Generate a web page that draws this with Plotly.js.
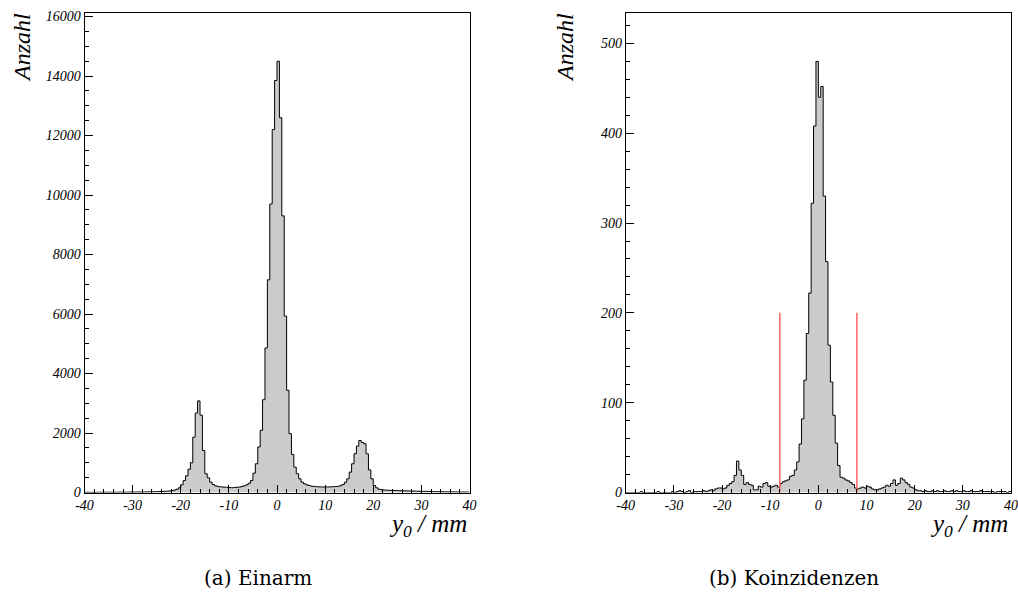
<!DOCTYPE html>
<html>
<head>
<meta charset="utf-8">
<script src="https://cdn.plot.ly/plotly-3.0.1.min.js"></script>
<style>
html,body{margin:0;padding:0;background:#ffffff;}
#chart{width:1018px;height:614px;}
</style>
</head>
<body>
<div id="chart"></div>
<script>
// ---- data ----
const xStart = -40;
const binWidth = 0.5;

// (a) Einarm: counts per 0.5 mm bin from -40 to 40
const einarmCounts = [
  5,6,5,7,6,8,7,8,9,8,
  10,9,11,10,12,11,13,12,14,15,
  15,16,18,17,19,21,22,24,26,28,
  30,33,36,40,45,52,65,80,110,160,
  260,400,560,780,1000,1860,2670,3080,2600,1410,
  630,495,350,270,225,205,190,185,180,175,
  165,160,170,175,185,200,225,258,313,404,
  650,966,1530,2090,3120,4860,7150,9700,12200,13850,
  14500,12600,9300,5930,3435,1977,1280,852,630,461,
  347,293,258,236,213,202,195,190,188,185,
  185,188,190,195,200,210,230,269,347,461,
  684,966,1303,1560,1750,1680,1640,1300,760,461,
  236,157,110,95,85,80,75,70,68,65,
  62,60,58,55,52,50,48,46,44,42,
  40,38,36,34,32,30,28,27,26,25,
  24,23,22,21,20,19,18,17,16,15
];

// (b) Koinzidenzen: counts per 0.5 mm bin from -40 to 40
const koinzCounts = [
  0,0,0,0,0,0,1,0,0,0,
  0,0,0,1,0,0,0,0,0,1,
  0,1,2,1,0,1,2,0,1,1,
  1,1,2,1,2,3,2,4,5,5,
  4,5,8,10,12,19,35,25,19,9,
  11,9,8,3,3,7,6,10,11,7,
  6,7,8,6,10,12,13,14,18,19,
  25,34,54,82,125,177,222,322,408,480,
  440,452,330,257,164,123,86,55,30,17,
  16,14,13,11,9,5,4,5,6,5,
  7,6,4,3,3,4,5,6,8,7,
  10,14,8,10,16,14,11,9,6,5,
  3,2,2,1,2,1,1,2,1,2,
  1,1,2,1,1,2,1,2,1,1,
  2,1,1,2,1,1,1,2,1,1,
  1,1,1,0,1,1,1,1,0,1
];

const cutPositions = [-8, 8];
const cutHeight = 200;

const xTickVals = [-40,-30,-20,-10,0,10,20,30,40];
const xTickText = ["-40","-30","-20","-10","0","10","20","30","40"];
const yTickValsA = [0,2000,4000,6000,8000,10000,12000,14000,16000];
const yTickTextA = ["0","2000","4000","6000","8000","10000","12000","14000","16000"];
const yTickValsB = [0,100,200,300,400,500];
const yTickTextB = ["0","100","200","300","400","500"];

const yTitleText = "Anzahl";
const xTitleText = "y<sub>0</sub> / mm";
const captions = ["(a) Einarm", "(b) Koinzidenzen"];

// ---- build step outlines ----
function stepXY(counts){
  const xs = [], ys = [];
  counts.forEach((c, i) => { xs.push(xStart + i*binWidth); ys.push(c); });
  xs.push(xStart + counts.length*binWidth);
  ys.push(counts[counts.length-1]);
  return {xs, ys};
}
const sA = stepXY(einarmCounts);
const sB = stepXY(koinzCounts);

const cutX = [], cutY = [];
cutPositions.forEach(c => { cutX.push(c, c, null); cutY.push(0, cutHeight, null); });

const W = 1018, H = 614;
const serif = 'Liberation Serif, Times New Roman, serif';
const capSerif = 'DejaVu Serif, serif';

const traces = [
  {x: sA.xs, y: sA.ys, xaxis:'x', yaxis:'y', type:'scatter', mode:'lines',
   line:{shape:'hv', color:'#000000', width:1}, fill:'tozeroy', fillcolor:'#cbcbcb',
   hoverinfo:'skip', showlegend:false},
  {x: sB.xs, y: sB.ys, xaxis:'x2', yaxis:'y2', type:'scatter', mode:'lines',
   line:{shape:'hv', color:'#000000', width:1}, fill:'tozeroy', fillcolor:'#cbcbcb',
   hoverinfo:'skip', showlegend:false},
  {x: cutX, y: cutY, xaxis:'x2', yaxis:'y2', type:'scatter', mode:'lines',
   line:{color:'#ff6464', width:1.5}, hoverinfo:'skip', showlegend:false}
];

const tickFont = {family: serif, size: 14, style:'italic', color:'#000000'};
function axis(extra){
  return Object.assign({
    showline:true, mirror:true, linecolor:'#000000', linewidth:1,
    ticks:'inside', ticklen:8, tickwidth:1, tickcolor:'#000000',
    showgrid:false, zeroline:false, tickfont:tickFont, fixedrange:true,
    tickmode:'array'
  }, extra);
}

const leftX0 = 84.5, leftX1 = 469.5, rightX0 = 625.7, rightX1 = 1011;
const topY = 13.3, botY = 492.5;

const layout = {
  width: W, height: H, autosize:false,
  margin:{l:0,r:0,t:0,b:0,pad:0},
  paper_bgcolor:'#ffffff', plot_bgcolor:'#ffffff',
  showlegend:false,
  xaxis: axis({domain:[leftX0/W, leftX1/W], range:[-40,40], anchor:'y',
    tickvals:xTickVals, ticktext:xTickText,
    minor:{tickmode:'linear', tick0:-40, dtick:2, ticks:'inside', ticklen:4, tickcolor:'#000000', showgrid:false}}),
  yaxis: axis({domain:[1-botY/H, 1-topY/H], range:[0,16110], anchor:'x',
    tickvals:yTickValsA, ticktext:yTickTextA,
    minor:{tickmode:'linear', tick0:0, dtick:500, ticks:'inside', ticklen:4, tickcolor:'#000000', showgrid:false}}),
  xaxis2: axis({domain:[rightX0/W, rightX1/W], range:[-40,40], anchor:'y2',
    tickvals:xTickVals, ticktext:xTickText,
    minor:{tickmode:'linear', tick0:-40, dtick:2, ticks:'inside', ticklen:4, tickcolor:'#000000', showgrid:false}}),
  yaxis2: axis({domain:[1-botY/H, 1-topY/H], range:[0,533.5], anchor:'x2',
    tickvals:yTickValsB, ticktext:yTickTextB,
    minor:{tickmode:'linear', tick0:0, dtick:20, ticks:'inside', ticklen:4, tickcolor:'#000000', showgrid:false}}),
  annotations: [
    {text:yTitleText, xref:'paper', yref:'paper', x:22/W, y:1-48/H, textangle:-90,
     showarrow:false, xanchor:'center', yanchor:'middle',
     font:{family:serif, size:24, style:'italic', color:'#000'}},
    {text:yTitleText, xref:'paper', yref:'paper', x:565/W, y:1-48/H, textangle:-90,
     showarrow:false, xanchor:'center', yanchor:'middle',
     font:{family:serif, size:24, style:'italic', color:'#000'}},
    {text:xTitleText, xref:'paper', yref:'paper', x:469/W, y:1-525/H,
     showarrow:false, xanchor:'right', yanchor:'middle',
     font:{family:serif, size:25, style:'italic', color:'#000'}},
    {text:xTitleText, xref:'paper', yref:'paper', x:1010/W, y:1-525/H,
     showarrow:false, xanchor:'right', yanchor:'middle',
     font:{family:serif, size:25, style:'italic', color:'#000'}},
    {text:captions[0], xref:'paper', yref:'paper', x:258/W, y:1-578/H,
     showarrow:false, xanchor:'center', yanchor:'middle',
     font:{family:capSerif, size:20, color:'#000'}},
    {text:captions[1], xref:'paper', yref:'paper', x:794/W, y:1-578/H,
     showarrow:false, xanchor:'center', yanchor:'middle',
     font:{family:capSerif, size:20, color:'#000'}}
  ]
};

Plotly.newPlot('chart', traces, layout, {staticPlot:true, displayModeBar:false});
</script>
</body>
</html>
